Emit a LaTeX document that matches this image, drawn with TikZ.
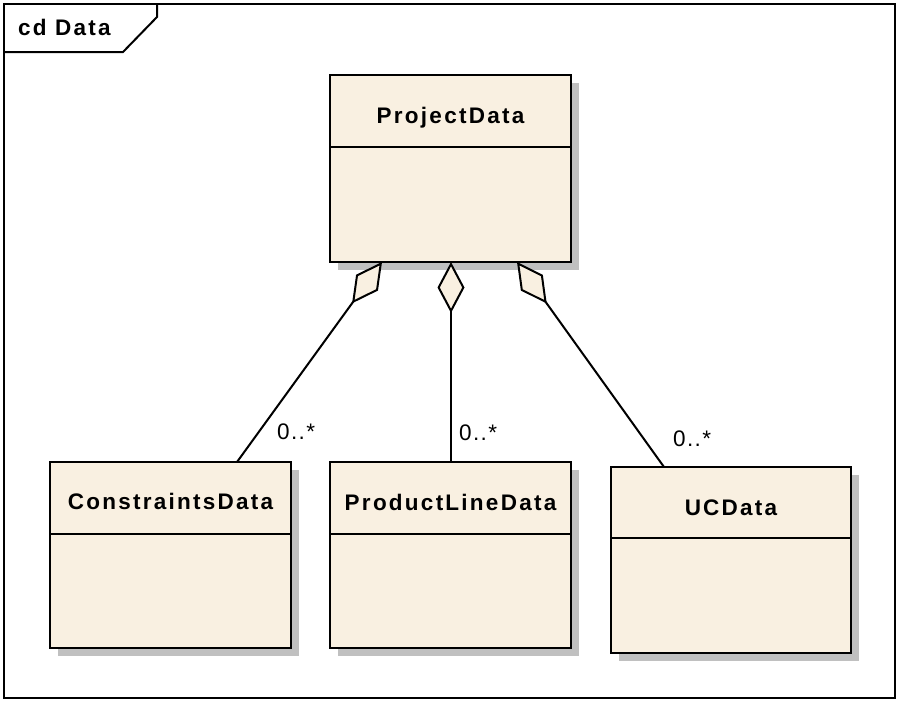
\documentclass[tikz,border=0pt]{standalone}
\usepackage{fontspec}
\newfontfamily\umlfont[LetterSpace=10]{Liberation Sans}
\newfontfamily\multfont[LetterSpace=6]{Liberation Sans}
\usetikzlibrary{arrows.meta,shadows}
\definecolor{clsfill}{HTML}{F9F0E1}
\definecolor{shadowgray}{HTML}{C0C0C0}
\begin{document}
\begin{tikzpicture}[x=1pt,y=-1pt,
  cls/.style={draw=black, line width=2pt, fill=clsfill, rectangle, inner sep=0pt, outer sep=0pt,
    general shadow={fill=shadowgray, shadow xshift=8pt, shadow yshift=-8pt}},
  divider/.style={line width=2pt},
  clsname/.style={font=\umlfont\bfseries\fontsize{22.5}{25}\selectfont, anchor=base, inner sep=0pt},
  mult/.style={font=\multfont\fontsize{22.5}{25}\selectfont, anchor=base west, inner sep=0pt},
  agg/.style={line width=2pt, -{Diamond[open, fill=clsfill, length=51pt, width=27pt]}},
  framebox/.style={line width=2pt}
]
\useasboundingbox (0,0) rectangle (897,702);
% frame
\draw[framebox] (4,4) rectangle (895,698);
\draw[framebox] (4,52) -- (123,52) -- (157,17) -- (157,4);
\node[font=\umlfont\bfseries\fontsize{22.5}{25}\selectfont, anchor=base west, inner sep=0pt] (title) at (18,35) {cd Data};

% classes
\node[cls, minimum width=241pt, minimum height=187pt] (proj) at (450.5,168.5) {};
\draw[divider] ([yshift=-72pt]proj.north west) -- ([yshift=-72pt]proj.north east);
\node[clsname] (projname) at ([yshift=-48pt]proj.north) {ProjectData};

\node[cls, minimum width=241pt, minimum height=186pt] (cons) at (170.5,555) {};
\draw[divider] ([yshift=-72pt]cons.north west) -- ([yshift=-72pt]cons.north east);
\node[clsname] (consname) at ([yshift=-47pt]cons.north) {ConstraintsData};

\node[cls, minimum width=241pt, minimum height=186pt] (pld) at (450.5,555) {};
\draw[divider] ([yshift=-72pt]pld.north west) -- ([yshift=-72pt]pld.north east);
\node[clsname] (pldname) at ([yshift=-48pt]pld.north) {ProductLineData};

\node[cls, minimum width=240pt, minimum height=186pt] (uc) at (731,560) {};
\draw[divider] ([yshift=-71pt]uc.north west) -- ([yshift=-71pt]uc.north east);
\node[clsname] (ucname) at ([yshift=-48pt]uc.north) {UCData};

% aggregations
\draw[agg] ([xshift=187pt]cons.north west) -- ([xshift=52pt]proj.south west);
\draw[agg] ([xshift=0.5pt]pld.north) -- ([xshift=0.5pt]proj.south);
\draw[agg] ([xshift=53pt]uc.north west) -- ([xshift=187pt]proj.south west);

% multiplicities
\node[mult] (m1) at (277,439) {0..*};
\node[mult] (m2) at (459,440) {0..*};
\node[mult] (m3) at (673,446) {0..*};
\end{tikzpicture}
\end{document}
